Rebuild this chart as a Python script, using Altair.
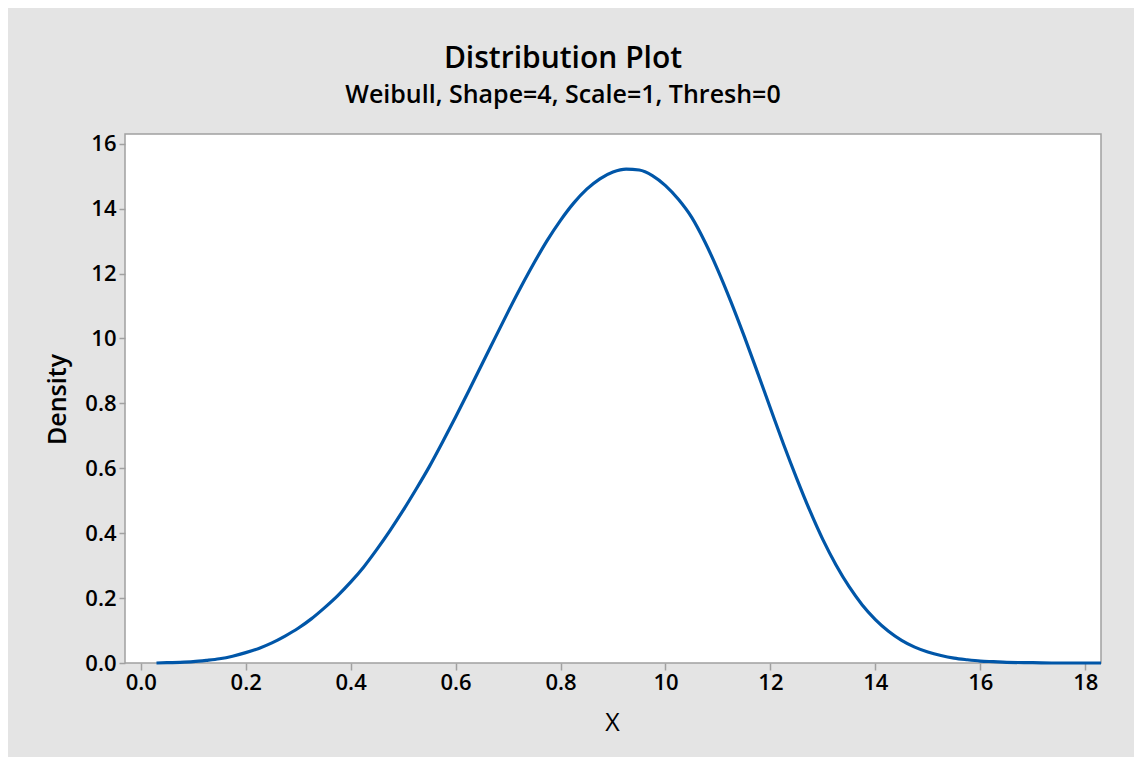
import altair as alt
import pandas as pd
import json

# Curve
x_vals = [0.03, 0.05, 0.075, 0.1, 0.125, 0.15, 0.175, 0.2, 0.225, 0.25, 0.275, 0.3, 0.325, 0.35,
          0.375, 0.4, 0.425, 0.45, 0.475, 0.5, 0.525, 0.55, 0.575, 0.6, 0.625, 0.65, 0.675, 0.7,
          0.725, 0.75, 0.775, 0.8, 0.825, 0.85, 0.875, 0.9, 0.925, 0.95, 0.975, 1.0, 1.025, 1.05,
          1.075, 1.1, 1.125, 1.15, 1.175, 1.2, 1.225, 1.25, 1.275, 1.3, 1.325, 1.35, 1.375, 1.4,
          1.425, 1.45, 1.475, 1.5, 1.525, 1.55, 1.575, 1.6, 1.625, 1.65, 1.7, 1.75, 1.8, 1.83]
density = [0.000, 0.001, 0.002, 0.004, 0.008, 0.013, 0.021, 0.032, 0.045, 0.062, 0.083, 0.107,
           0.136, 0.170, 0.207, 0.249, 0.296, 0.350, 0.408, 0.470, 0.536, 0.605, 0.680, 0.758,
           0.838, 0.920, 1.001, 1.082, 1.160, 1.234, 1.303, 1.364, 1.417, 1.460, 1.492, 1.513,
           1.522, 1.519, 1.502, 1.471, 1.428, 1.373, 1.298, 1.210, 1.112, 1.007, 0.897, 0.785,
           0.674, 0.569, 0.470, 0.380, 0.302, 0.235, 0.179, 0.134, 0.098, 0.070, 0.049, 0.034,
           0.023, 0.015, 0.010, 0.006, 0.004, 0.002, 0.001, 0.000, 0.000, 0.000]

x_ticks = [0.0, 0.2, 0.4, 0.6, 0.8, 1.0, 1.2, 1.4, 1.6, 1.8]
x_tick_labels = ["0.0", "0.2", "0.4", "0.6", "0.8", "10", "12", "14", "16", "18"]
y_ticks = [0.0, 0.2, 0.4, 0.6, 0.8, 1.0, 1.2, 1.4, 1.6]
y_tick_labels = ["0.0", "0.2", "0.4", "0.6", "0.8", "10", "12", "14", "16"]

df = pd.DataFrame({"x": x_vals, "density": density})

def label_expr(ticks, labels):
    mapping = {format(t, ".1f"): l for t, l in zip(ticks, labels)}
    return json.dumps(mapping) + "[format(datum.value, '.1f')]"

FONT = "Open Sans"
GRAY = "#a0a0a0"

line = alt.Chart(df).mark_line(color="#0056a8", strokeWidth=3.2, interpolate="monotone").encode(
    x=alt.X("x:Q",
            scale=alt.Scale(domain=[-0.03, 1.83], nice=False, zero=False),
            axis=alt.Axis(title="X", values=x_ticks, labelExpr=label_expr(x_ticks, x_tick_labels),
                          grid=False, domain=False, tickColor=GRAY, tickSize=7, tickWidth=1.5,
                          labelFontSize=22, labelFont=FONT, labelFontWeight=600, labelColor="black",
                          labelPadding=2,
                          titleFontSize=25, titleFont=FONT, titleFontWeight="normal", titleColor="black",
                          titleX=487, titleY=59, titleBaseline="middle", titleAlign="center")),
    y=alt.Y("density:Q",
            scale=alt.Scale(domain=[0, 1.63], nice=False, zero=True),
            axis=alt.Axis(title="Density", values=y_ticks, labelExpr=label_expr(y_ticks, y_tick_labels),
                          grid=False, domain=False, tickColor=GRAY, tickSize=6, tickWidth=1.5,
                          labelFontSize=22, labelFont=FONT, labelFontWeight=600, labelColor="black",
                          labelPadding=3,
                          titleFontSize=25, titleFont=FONT, titleFontWeight=600, titleColor="black",
                          titleX=-68, titleY=265, titleAngle=270, titleBaseline="middle",
                          titleAlign="center")),
)

chart = line.properties(
    width=976,
    height=529,
    background="#e4e4e4",
    padding={"left": 117, "top": 126, "right": 33, "bottom": 94},
    autosize=alt.AutoSizeParams(type="none"),
    title=alt.TitleParams(
        text="Distribution Plot",
        subtitle="Weibull, Shape=4, Scale=1, Thresh=0",
        anchor="middle",
        dx=-50,
        offset=25,
        font=FONT,
        fontSize=30,
        fontWeight=600,
        color="black",
        subtitleFont=FONT,
        subtitleFontSize=25,
        subtitleFontWeight=600,
        subtitleColor="black",
        subtitlePadding=9,
    ),
).configure_view(stroke=GRAY, strokeWidth=1.5, fill="white")

chart.save("out.html", embed_options={"renderer": "svg", "actions": False})
